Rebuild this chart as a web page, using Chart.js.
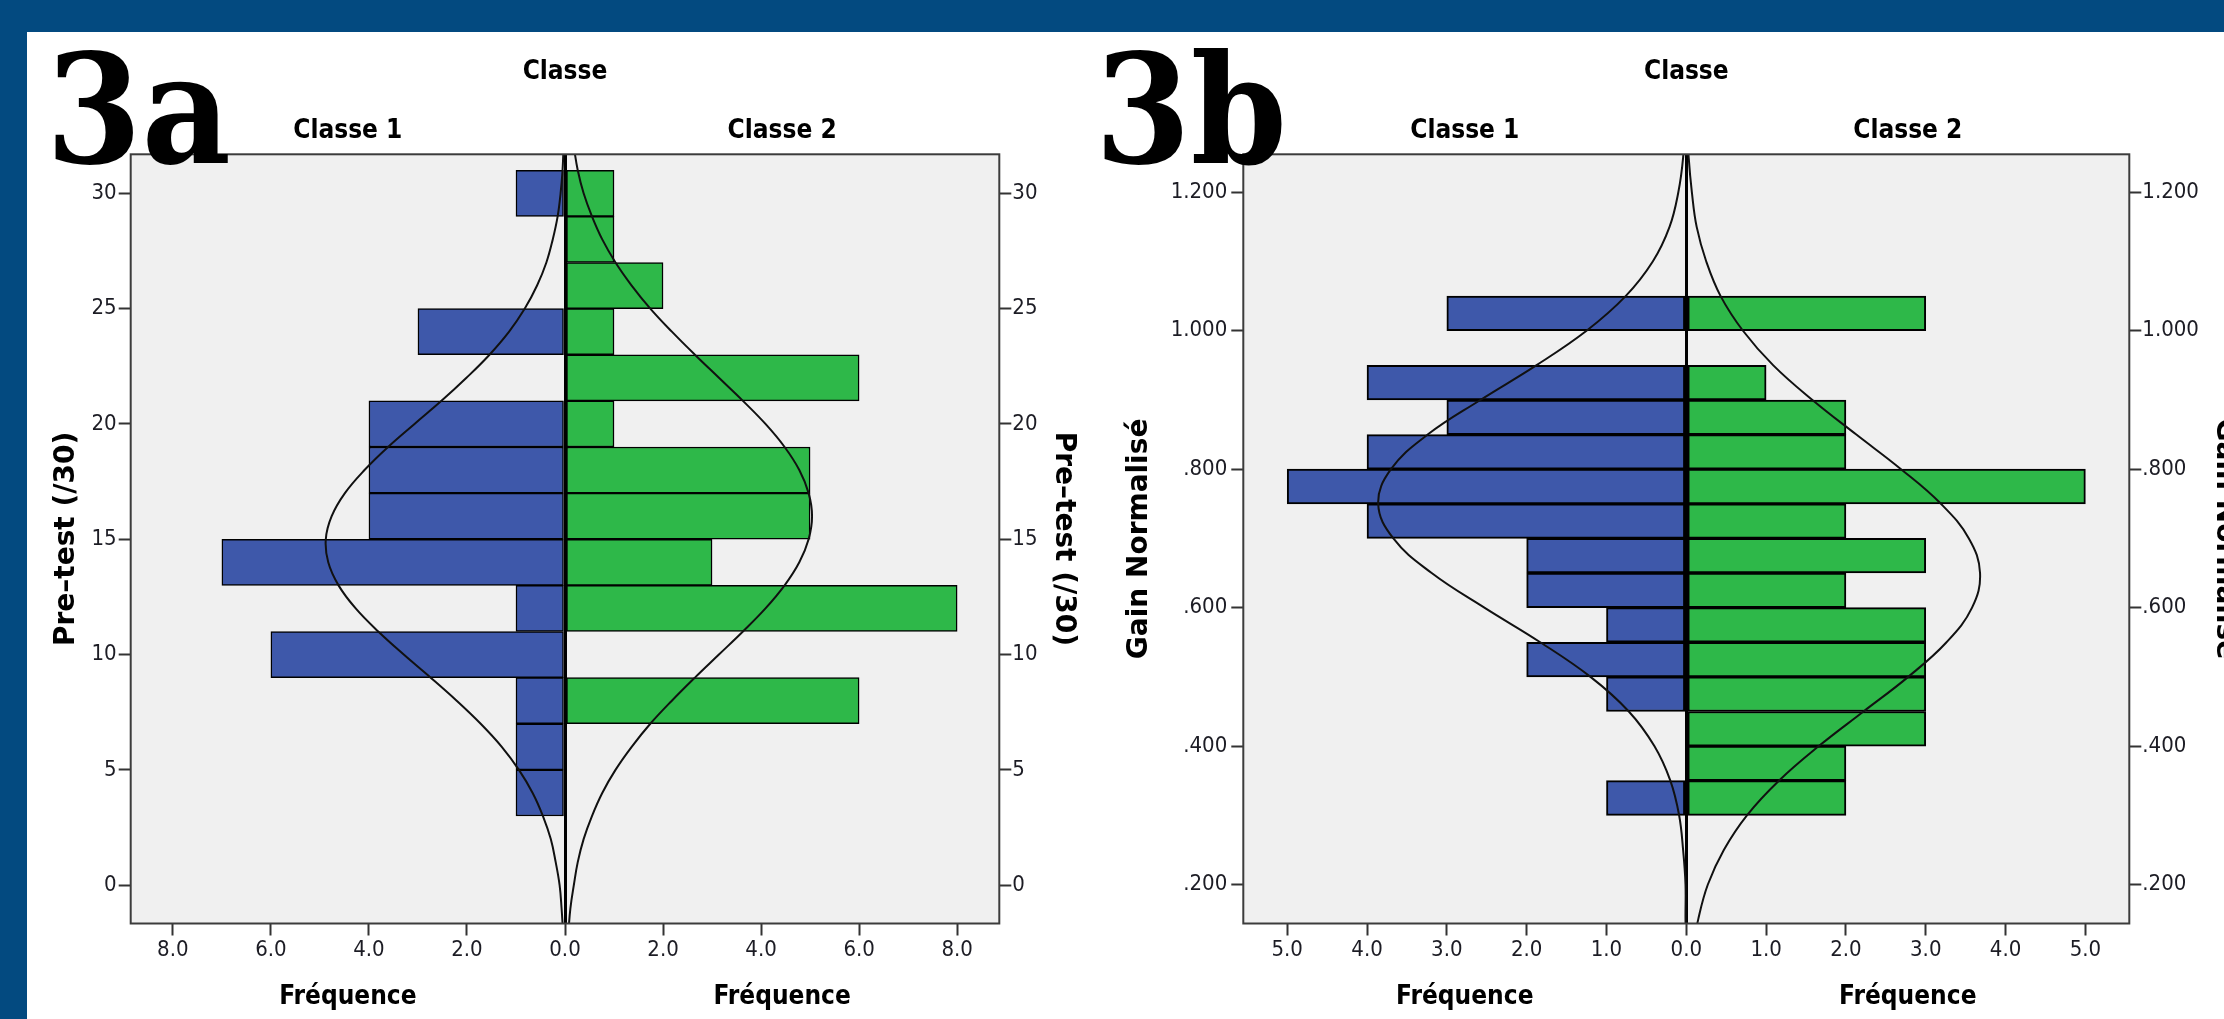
<!DOCTYPE html>
<html><head><meta charset="utf-8">
<script src="https://cdn.jsdelivr.net/npm/chart.js@4"></script>
<style>
html,body{margin:0;padding:0;background:#fff;width:2224px;height:1019px;overflow:hidden;position:relative}
#hdr{position:absolute;left:0;top:0;width:2224px;height:32px;background:#034a80;z-index:6}
#strip{position:absolute;left:0;top:0;width:27px;height:1019px;background:#034a80;z-index:6}
.big{position:absolute;font-family:'DejaVu Serif',serif;font-weight:bold;font-size:152px;line-height:152px;color:#000;transform-origin:0 0;transform:scaleX(0.905);z-index:5;white-space:nowrap}
canvas{position:absolute}
</style></head><body>
<div id="hdr"></div><div id="strip"></div>
<canvas id="ca" width="1084" height="987" style="left:28px;top:32px;width:1084px;height:987px"></canvas>
<canvas id="cb" width="1160" height="987" style="left:1112px;top:32px;width:1160px;height:987px"></canvas>
<div class="big" style="left:46px;top:34px">3a</div>
<div class="big" style="left:1095px;top:34px">3b</div>
<script>
// ---------- Data: panel 3a (Pre-test /30) ----------
const preBins = [30, 28, 26, 24, 22, 20, 18, 16, 14, 12, 10, 8, 6, 4];
const preClasse1 = [1, 0, 0, 3, 0, 4, 4, 4, 7, 1, 6, 1, 1, 1];
const preClasse2 = [1, 1, 2, 1, 6, 1, 5, 5, 3, 8, 0, 6, 0, 0];
const preTickValues = [0, 5, 10, 15, 20, 25, 30];
const preTickLabels = ['0', '5', '10', '15', '20', '25', '30'];
const freqTickValuesA = [-8, -6, -4, -2, 0, 2, 4, 6, 8];
const freqTickLabelsA = ['8.0', '6.0', '4.0', '2.0', '0.0', '2.0', '4.0', '6.0', '8.0'];
const preCurveY = [-2, -1, 0, 1, 2, 3, 4, 5, 6, 7, 8, 9, 10, 11, 12, 13, 14, 15, 16, 17, 18, 19, 20, 21, 22, 23, 24, 25, 26, 27, 28, 29, 30, 31, 32];
const preCurve1 = [0.04, 0.07, 0.11, 0.19, 0.29, 0.45, 0.66, 0.94, 1.29, 1.72, 2.21, 2.74, 3.29, 3.81, 4.27, 4.62, 4.83, 4.88, 4.76, 4.49, 4.09, 3.61, 3.07, 2.52, 2.01, 1.54, 1.14, 0.82, 0.57, 0.38, 0.25, 0.15, 0.09, 0.05, 0.03];
const preCurve2 = [0.07, 0.11, 0.18, 0.26, 0.38, 0.55, 0.76, 1.03, 1.36, 1.74, 2.18, 2.65, 3.14, 3.63, 4.09, 4.48, 4.78, 4.97, 5.04, 4.97, 4.78, 4.48, 4.09, 3.63, 3.14, 2.65, 2.18, 1.74, 1.36, 1.03, 0.76, 0.55, 0.38, 0.26, 0.18];

// ---------- Data: panel 3b (Gain Normalisé) ----------
const gainBins = [1.025, 0.975, 0.925, 0.875, 0.825, 0.775, 0.725, 0.675, 0.625, 0.575, 0.525, 0.475, 0.425, 0.375, 0.325];
const gainClasse1 = [3, 0, 4, 3, 4, 5, 4, 2, 2, 1, 2, 1, 0, 0, 1];
const gainClasse2 = [3, 0, 1, 2, 2, 5, 2, 3, 2, 3, 3, 3, 3, 2, 2];
const gainTickValues = [0.2, 0.4, 0.6, 0.8, 1.0, 1.2];
const gainTickLabels = ['.200', '.400', '.600', '.800', '1.000', '1.200'];
const freqTickValuesB = [-5, -4, -3, -2, -1, 0, 1, 2, 3, 4, 5];
const freqTickLabelsB = ['5.0', '4.0', '3.0', '2.0', '1.0', '0.0', '1.0', '2.0', '3.0', '4.0', '5.0'];
const gainCurveY = [0.10, 0.15, 0.20, 0.25, 0.30, 0.35, 0.40, 0.45, 0.50, 0.55, 0.60, 0.65, 0.70, 0.75, 0.80, 0.85, 0.90, 0.95, 1.00, 1.05, 1.10, 1.15, 1.20, 1.25, 1.30];
const gainCurve1 = [0.00, 0.01, 0.01, 0.04, 0.09, 0.20, 0.40, 0.72, 1.20, 1.83, 2.53, 3.19, 3.67, 3.86, 3.70, 3.24, 2.58, 1.88, 1.25, 0.76, 0.42, 0.21, 0.10, 0.04, 0.02];
const gainCurve2 = [0.07, 0.15, 0.27, 0.47, 0.76, 1.16, 1.66, 2.22, 2.78, 3.26, 3.58, 3.68, 3.54, 3.19, 2.69, 2.13, 1.58, 1.09, 0.71, 0.43, 0.25, 0.13, 0.07, 0.03, 0.01];

const classLabels = ['Classe 1', 'Classe 2'];
const freqLabels = ['Fréquence', 'Fréquence'];

// ---------- Styling ----------
const COND = "'DejaVu Sans Condensed','Liberation Sans Narrow','DejaVu Sans',sans-serif";
const SANS = "'DejaVu Sans',sans-serif";
const BLUE = '#3e58aa';
const GREEN = '#2eb849';

const boxPlugin = {
  id: 'plotBox',
  beforeDraw(chart) {
    const {ctx, chartArea: a} = chart;
    ctx.save();
    ctx.fillStyle = '#f0f0f0';
    ctx.fillRect(a.left, a.top, a.right - a.left, a.bottom - a.top);
    ctx.restore();
  },
  afterDraw(chart) {
    const {ctx, chartArea: a} = chart;
    ctx.save();
    ctx.strokeStyle = '#3c3c3c';
    ctx.lineWidth = 2;
    ctx.strokeRect(a.left, a.top, a.right - a.left, a.bottom - a.top);
    ctx.restore();
  }
};

function yAxis(p, side) {
  const left = side === 'left';
  return {
    type: 'linear', position: side, min: p.yMin, max: p.yMax, offset: false, bounds: 'data',
    afterBuildTicks: s => { s.ticks = p.yTicks.map(v => ({value: v})); },
    ticks: {autoSkip: false, callback: (v, i) => p.yTickLabels[i], font: {family: COND, size: 22}, color: '#1c1c24', padding: left ? p.leftTickPad : p.rightTickPad},
    grid: {offset: false, drawOnChartArea: false, drawTicks: true, tickLength: 12, tickWidth: 2, tickColor: '#333'},
    border: {display: false},
    title: {display: true, text: p.yTitle, font: {family: SANS, size: 28, weight: 'bold'}, color: '#000', padding: {top: left ? p.leftTitlePad : p.rightTitlePad, bottom: 0}},
    afterFit: s => { s.width = left ? p.leftW : p.rightW; }
  };
}

function makePanel(id, p) {
  const bar1 = [], bar2 = [];
  p.bins.forEach((b, i) => {
    if (p.c1[i]) bar1.push({x: -p.c1[i], y: b});
    if (p.c2[i]) bar2.push({x: p.c2[i], y: b});
  });
  const barCommon = {type: 'bar', borderColor: '#000', borderWidth: p.barBorder, borderSkipped: false, grouped: false, barPercentage: 1, categoryPercentage: 1, xAxisID: 'x', yAxisID: 'y', order: 2};
  const lineCommon = {type: 'line', borderColor: '#111', borderWidth: 2, pointRadius: 0, tension: 0.4, fill: false, xAxisID: 'x', yAxisID: 'y', order: 1};
  new Chart(document.getElementById(id), {
    type: 'bar',
    data: {
      datasets: [
        Object.assign({label: 'Classe 1', data: bar1, backgroundColor: BLUE}, barCommon),
        Object.assign({label: 'Classe 2', data: bar2, backgroundColor: GREEN}, barCommon),
        Object.assign({label: 'Normale 1', data: p.curveY.map((v, i) => ({x: -p.curve1[i], y: v}))}, lineCommon),
        Object.assign({label: 'Normale 2', data: p.curveY.map((v, i) => ({x: p.curve2[i], y: v}))}, lineCommon)
      ]
    },
    options: {
      indexAxis: 'y', responsive: false, animation: false, events: [],
      layout: {padding: 0},
      plugins: {legend: {display: false}, tooltip: {enabled: false}, title: {display: false}},
      scales: {
        x: {
          type: 'linear', position: 'bottom', min: p.xMin, max: p.xMax, weight: 0, z: 1, bounds: 'data',
          afterBuildTicks: s => { s.ticks = p.xTicks.map(v => ({value: v})); },
          ticks: {autoSkip: false, maxRotation: 0, minRotation: 0, callback: (v, i) => p.xTickLabels[i], font: {family: COND, size: 22}, color: '#1c1c24', padding: 2},
          grid: {drawOnChartArea: true, drawTicks: true, tickLength: 12, tickWidth: 2, tickColor: '#333',
                 color: c => (c.tick && c.tick.value === 0) ? '#000' : 'rgba(0,0,0,0)',
                 lineWidth: c => (c.tick && c.tick.value === 0) ? 3 : 1},
          border: {display: false},
          afterFit: s => { s.height = 50; }
        },
        xTop: {
          type: 'category', labels: classLabels, position: 'top', offset: true,
          grid: {display: false, drawTicks: false}, border: {display: false},
          ticks: {autoSkip: false, maxRotation: 0, font: {family: COND, size: 26, weight: 'bold'}, color: '#000', padding: 7},
          title: {display: true, text: 'Classe', font: {family: COND, size: 26, weight: 'bold'}, color: '#000', padding: {top: 25, bottom: 0}},
          afterFit: s => { s.height = 122.3; }
        },
        xBottom: {
          type: 'category', labels: freqLabels, position: 'bottom', weight: 1, offset: true,
          grid: {display: false, drawTicks: false}, border: {display: false},
          ticks: {autoSkip: false, maxRotation: 0, font: {family: COND, size: 26, weight: 'bold'}, color: '#000', padding: 8},
          afterFit: s => { s.height = 45.5; }
        },
        y: yAxis(p, 'left'),
        y2: yAxis(p, 'right')
      }
    },
    plugins: [boxPlugin]
  });
}

makePanel('ca', {
  bins: preBins, c1: preClasse1, c2: preClasse2,
  curveY: preCurveY, curve1: preCurve1, curve2: preCurve2,
  yMin: -1.66, yMax: 31.69, yTicks: preTickValues, yTickLabels: preTickLabels,
  xMin: -8.86, xMax: 8.86, xTicks: freqTickValuesA, xTickLabels: freqTickLabelsA,
  yTitle: 'Pre–test (/30)', leftW: 102.7, rightW: 112.7, leftTitlePad: 22, rightTitlePad: 32,
  leftTickPad: 2, rightTickPad: 1, barBorder: 1.5
});
makePanel('cb', {
  bins: gainBins, c1: gainClasse1, c2: gainClasse2,
  curveY: gainCurveY, curve1: gainCurve1, curve2: gainCurve2,
  yMin: 0.1437, yMax: 1.2549, yTicks: gainTickValues, yTickLabels: gainTickLabels,
  xMin: -5.55, xMax: 5.55, xTicks: freqTickValuesB, xTickLabels: freqTickLabelsB,
  yTitle: 'Gain Normalisé', leftW: 131.3, rightW: 142.7, leftTitlePad: 11, rightTitlePad: 31,
  leftTickPad: 4, rightTickPad: 1, barBorder: 2
});
</script>
</body></html>
